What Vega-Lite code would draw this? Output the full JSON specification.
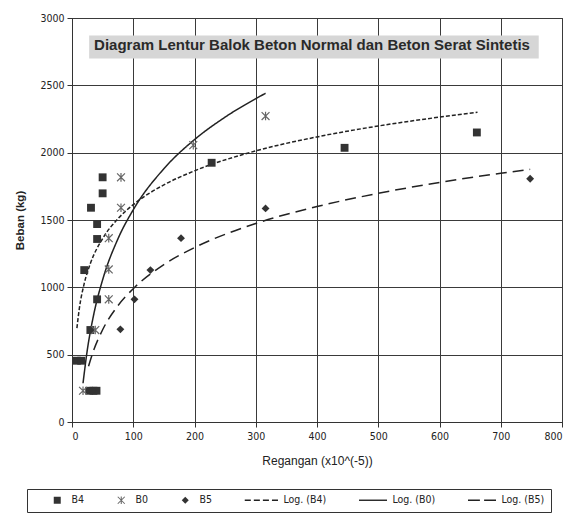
{
  "$schema": "https://vega.github.io/schema/vega-lite/v6.json",
  "width": 490,
  "height": 404,
  "autosize": {"type": "none"},
  "padding": {"left": 72, "top": 18, "right": 13, "bottom": 96},
  "background": "white",
  "config": {
    "font": "Liberation Sans",
    "view": {"stroke": "#333", "strokeWidth": 1},
    "axis": {
      "grid": true,
      "gridColor": "#3a3a3a", "gridOpacity": 1, "gridWidth": 1,
      "domainColor": "#333", "tickColor": "#333", "tickSize": 5,
      "labelColor": "#222", "labelFont": "DejaVu Sans Condensed", "labelFontSize": 10.5,
      "titleColor": "#222"
    }
  },
  "title": {
    "text": "Diagram  Lentur Balok Beton Normal dan Beton Serat Sintetis",
    "fontSize": 15, "fontWeight": "bold", "color": "#2a2a2a",
    "anchor": "middle", "baseline": "bottom", "offset": -55, "dx": -5
  },
  "datasets": {
    "pts": [
      {"series": "B4", "x": 8, "y": 455}, {"series": "B4", "x": 15, "y": 455},
      {"series": "B4", "x": 28, "y": 232}, {"series": "B4", "x": 35, "y": 232},
      {"series": "B4", "x": 40, "y": 232}, {"series": "B4", "x": 30, "y": 683},
      {"series": "B4", "x": 41, "y": 911}, {"series": "B4", "x": 20, "y": 1128},
      {"series": "B4", "x": 41, "y": 1359}, {"series": "B4", "x": 41, "y": 1470},
      {"series": "B4", "x": 31, "y": 1591}, {"series": "B4", "x": 50, "y": 1698},
      {"series": "B4", "x": 50, "y": 1817}, {"series": "B4", "x": 228, "y": 1925},
      {"series": "B4", "x": 445, "y": 2036}, {"series": "B4", "x": 661, "y": 2150},
      {"series": "B0", "x": 18, "y": 232}, {"series": "B0", "x": 38, "y": 683},
      {"series": "B0", "x": 60, "y": 911}, {"series": "B0", "x": 60, "y": 1133},
      {"series": "B0", "x": 60, "y": 1365}, {"series": "B0", "x": 80, "y": 1591},
      {"series": "B0", "x": 80, "y": 1817}, {"series": "B0", "x": 198, "y": 2056},
      {"series": "B0", "x": 316, "y": 2272},
      {"series": "B5", "x": 33, "y": 232}, {"series": "B5", "x": 79, "y": 688},
      {"series": "B5", "x": 102, "y": 911}, {"series": "B5", "x": 128, "y": 1128},
      {"series": "B5", "x": 178, "y": 1365}, {"series": "B5", "x": 316, "y": 1586},
      {"series": "B5", "x": 748, "y": 1806}
    ],
    "fits": [
      {"series": "Log. (B4)", "x": 8, "y": 697}, {"series": "Log. (B4)", "x": 12, "y": 844},
      {"series": "Log. (B4)", "x": 20, "y": 1029}, {"series": "Log. (B4)", "x": 30, "y": 1177},
      {"series": "Log. (B4)", "x": 50, "y": 1362}, {"series": "Log. (B4)", "x": 75, "y": 1509},
      {"series": "Log. (B4)", "x": 100, "y": 1614}, {"series": "Log. (B4)", "x": 150, "y": 1761},
      {"series": "Log. (B4)", "x": 200, "y": 1865}, {"series": "Log. (B4)", "x": 300, "y": 2013},
      {"series": "Log. (B4)", "x": 400, "y": 2117}, {"series": "Log. (B4)", "x": 500, "y": 2198},
      {"series": "Log. (B4)", "x": 600, "y": 2264}, {"series": "Log. (B4)", "x": 662, "y": 2300},
      {"series": "Log. (B0)", "x": 18, "y": 288}, {"series": "Log. (B0)", "x": 25, "y": 535},
      {"series": "Log. (B0)", "x": 35, "y": 788}, {"series": "Log. (B0)", "x": 50, "y": 1056},
      {"series": "Log. (B0)", "x": 75, "y": 1360}, {"series": "Log. (B0)", "x": 100, "y": 1576},
      {"series": "Log. (B0)", "x": 150, "y": 1881}, {"series": "Log. (B0)", "x": 200, "y": 2097},
      {"series": "Log. (B0)", "x": 250, "y": 2264}, {"series": "Log. (B0)", "x": 316, "y": 2441},
      {"series": "Log. (B5)", "x": 27, "y": 414}, {"series": "Log. (B5)", "x": 35, "y": 528},
      {"series": "Log. (B5)", "x": 50, "y": 685}, {"series": "Log. (B5)", "x": 75, "y": 864},
      {"series": "Log. (B5)", "x": 100, "y": 990}, {"series": "Log. (B5)", "x": 150, "y": 1169},
      {"series": "Log. (B5)", "x": 200, "y": 1295}, {"series": "Log. (B5)", "x": 300, "y": 1474},
      {"series": "Log. (B5)", "x": 400, "y": 1600}, {"series": "Log. (B5)", "x": 500, "y": 1698},
      {"series": "Log. (B5)", "x": 600, "y": 1779}, {"series": "Log. (B5)", "x": 700, "y": 1847},
      {"series": "Log. (B5)", "x": 748, "y": 1876}
    ]
  },
  "layer": [
    {
      "data": {"values": [{"box": "title"}]},
      "mark": {"type": "rect", "fill": "#d6d6d6"},
      "encoding": {
        "x": {
          "datum": 28, "type": "quantitative",
          "scale": {"domain": [0, 800], "nice": false},
          "axis": {"values": [0, 100, 200, 300, 400, 500, 600, 700, 800], "format": "d", "title": "Regangan (x10^(-5))", "grid": true,
            "titleFontSize": 12, "titleFontWeight": "normal", "titlePadding": 14, "labelPadding": 4}
        },
        "x2": {"datum": 762},
        "y": {
          "datum": 2870, "type": "quantitative",
          "scale": {"domain": [0, 3000], "nice": false},
          "axis": {"values": [0, 500, 1000, 1500, 2000, 2500, 3000], "format": "d", "title": "Beban (kg)", "grid": true,
            "titleFontSize": 11.5, "titleFontWeight": "bold", "titlePadding": 14, "labelPadding": 3}
        },
        "y2": {"datum": 2700}
      }
    },
    {
      "data": {"name": "fits"},
      "mark": {"type": "line", "color": "#222", "strokeWidth": 1.5, "interpolate": "monotone"},
      "encoding": {
        "x": {"field": "x", "type": "quantitative"},
        "y": {"field": "y", "type": "quantitative"},
        "strokeDash": {
          "field": "series", "type": "nominal",
          "scale": {"domain": ["Log. (B4)", "Log. (B0)", "Log. (B5)"], "range": [[4, 2], [1, 0], [11, 6]]},
          "legend": null
        }
      }
    },
    {
      "data": {"name": "pts"},
      "mark": {"type": "point", "size": 62, "filled": true, "opacity": 1, "strokeWidth": 0},
      "encoding": {
        "x": {"field": "x", "type": "quantitative"},
        "y": {"field": "y", "type": "quantitative"},
        "shape": {
          "field": "series", "type": "nominal",
          "scale": {
            "domain": ["B4", "B0", "B5", "Log. (B4)", "Log. (B0)", "Log. (B5)"],
            "range": [
              "square",
              "M-0.894,-1.106L1.106,0.894L0.894,1.106L-1.106,-0.894Z M-1.106,0.894L0.894,-1.106L1.106,-0.894L-0.894,1.106Z M-0.15,-1.1H0.15V1.1H-0.15Z",
              "diamond",
              "M-7,-0.22H-5.27V0.22H-7Z M-4.41,-0.22H-2.68V0.22H-4.41Z M-1.82,-0.22H-0.09V0.22H-1.82Z M0.77,-0.22H2.5V0.22H0.77Z",
              "M-5.5,-0.2H2.5V0.2H-5.5Z",
              "M-5.5,-0.22H-2.1V0.22H-5.5Z M-0.9,-0.22H2.5V0.22H-0.9Z"
            ]
          },
          "legend": {
            "title": " ", "titleOrient": "left", "titlePadding": 19,
            "orient": "none", "legendX": -45, "legendY": 471,
            "direction": "horizontal", "columns": 6, "gridAlign": "none",
            "strokeColor": "#333", "padding": 6, "columnPadding": 32,
            "labelFont": "DejaVu Sans Condensed", "labelFontSize": 10.5, "labelColor": "#222",
            "labelOffset": 9, "symbolSize": 49, "symbolFillColor": "#333", "symbolStrokeWidth": 0,
            "encode": {
              "symbols": {
                "fill": {"value": "#333"},
                "size": {"value": 49},
                "opacity": {"value": 1}
              }
            }
          }
        },
        "fill": {
          "field": "series", "type": "nominal",
          "scale": {"domain": ["B4", "B0", "B5", "Log. (B4)", "Log. (B0)", "Log. (B5)"], "range": ["#333", "#666", "#333", "#222", "#222", "#222"]},
          "legend": null
        }
      }
    }
  ]
}
